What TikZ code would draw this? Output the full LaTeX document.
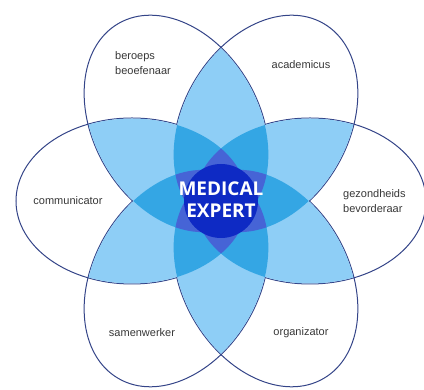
\documentclass[tikz,border=0pt]{standalone}
\usepackage{fontspec}
\newfontfamily\labelfont{Liberation Sans}
\newfontfamily\expertfont{Open Sans}
\definecolor{petalline}{RGB}{52,68,136}
\definecolor{twofold}{RGB}{142,206,246}
\definecolor{threefold}{RGB}{52,166,228}
\definecolor{fourfold}{RGB}{70,100,214}
\definecolor{expertblue}{RGB}{14,42,196}
\definecolor{labelgray}{RGB}{55,55,55}
\tikzset{
  petal label/.style={font=\labelfont\fontsize{11}{15}\selectfont, text=labelgray, inner sep=0pt},
  expert label/.style={font=\expertfont\bfseries\fontsize{19}{22}\selectfont, text=white, align=center, inner sep=0pt},
}
\begin{document}
\begin{tikzpicture}[x=1pt,y=1pt,
    petal body/.style={insert path={(89,0) ellipse [x radius=115.5, y radius=82.5]}},
    petal edge/.style={insert path={(89,0) ellipse [x radius=116, y radius=83]}}]
\useasboundingbox (-221,-189) rectangle (203,201);

% Drawing the six petal outlines
\foreach \i in {0,...,5}
  \draw[petalline, line width=1pt, rotate=60*\i, petal edge];

% Filling where two petals overlap
\foreach \i in {0,...,4}{
  \pgfmathtruncatemacro\ja{\i+1}
  \foreach \j in {\ja,...,5}{
    \begin{scope}
      \clip[rotate=60*\i, petal body];
      \fill[twofold, rotate=60*\j, petal body];
    \end{scope}
  }
}

% Filling where three petals overlap
\foreach \i in {0,...,3}{
  \pgfmathtruncatemacro\ja{\i+1}
  \foreach \j in {\ja,...,4}{
    \pgfmathtruncatemacro\ka{\j+1}
    \foreach \k in {\ka,...,5}{
      \begin{scope}
        \clip[rotate=60*\i, petal body];
        \clip[rotate=60*\j, petal body];
        \fill[threefold, rotate=60*\k, petal body];
      \end{scope}
    }
  }
}

% Filling where four petals overlap (the star)
\foreach \i in {0,...,2}{
  \pgfmathtruncatemacro\ja{\i+1}
  \foreach \j in {\ja,...,3}{
    \pgfmathtruncatemacro\ka{\j+1}
    \foreach \k in {\ka,...,4}{
      \pgfmathtruncatemacro\la{\k+1}
      \foreach \l in {\la,...,5}{
        \begin{scope}
          \clip[rotate=60*\i, petal body];
          \clip[rotate=60*\j, petal body];
          \clip[rotate=60*\k, petal body];
          \fill[fourfold, rotate=60*\l, petal body];
        \end{scope}
      }
    }
  }
}

% Heart of the flower
\fill[expertblue] (0,0) circle [radius=37];
\node[expert label] (expert) at (0,1) {MEDICAL\\EXPERT};

% Petal labels
\node[petal label, anchor=west, align=left] (beroeps) at (-106,137.5) {beroeps\\beoefenaar};
\node[petal label] (academicus) at (80,136) {academicus};
\node[petal label] (communicator) at (-153,0) {communicator};
\node[petal label, anchor=west, align=left] (gezondheids) at (122,0) {gezondheids\\bevorderaar};
\node[petal label] (samenwerker) at (-79,-132) {samenwerker};
\node[petal label] (organizator) at (80,-132) {organizator};
\end{tikzpicture}
\end{document}
